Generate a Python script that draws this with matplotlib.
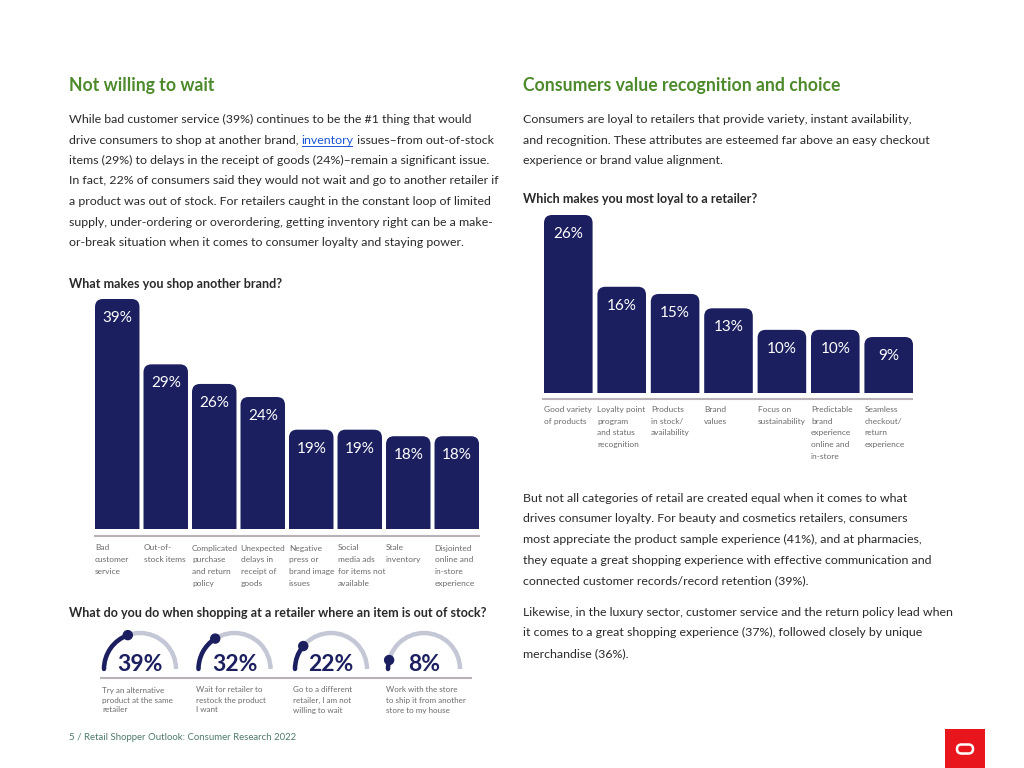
import math
import matplotlib.pyplot as plt
from matplotlib.patches import FancyBboxPatch, Arc, Circle, Rectangle

plt.rcParams['font.family'] = ['Lato', 'DejaVu Sans']

W, H = 1024, 768
NAVY = '#1b1f5f'
GREEN = '#4d8a2b'
TEXT = '#2a2a2a'
LABEL = '#6b6b6b'
RULE = '#b9b3b9'
GAUGE_BG = '#c4c7d6'

# chart data
shop_labels = ['Bad\ncustomer\nservice', 'Out-of-\nstock items', 'Complicated\npurchase\nand return\npolicy',
               'Unexpected\ndelays in\nreceipt of\ngoods', 'Negative\npress or\nbrand image\nissues',
               'Social\nmedia ads\nfor items not\navailable', 'Stale\ninventory',
               'Disjointed\nonline and\nin-store\nexperience']
shop_values = [39, 29, 26, 24, 19, 19, 18, 18]

loyal_labels = ['Good variety\nof products', 'Loyalty point\nprogram\nand status\nrecognition',
                'Products\nin stock/\navailability', 'Brand\nvalues', 'Focus on\nsustainability',
                'Predictable\nbrand\nexperience\nonline and\nin-store', 'Seamless\ncheckout/\nreturn\nexperience']
loyal_values = [26, 16, 15, 13, 10, 10, 9]

oos_labels = ['Try an alternative\nproduct at the same\nretailer', 'Wait for retailer to\nrestock the product\nI want',
              'Go to a different\nretailer, I am not\nwilling to wait', 'Work with the store\nto ship it from another\nstore to my house']
oos_values = [39, 32, 22, 8]

left_para = [
    'While bad customer service (39%) continues to be the #1 thing that would',
    None,
    'items (29%) to delays in the receipt of goods (24%)\u2013remain a significant issue.',
    'In fact, 22% of consumers said they would not wait and go to another retailer if',
    'a product was out of stock. For retailers caught in the constant loop of limited',
    'supply, under-ordering or overordering, getting inventory right can be a make-',
    'or-break situation when it comes to consumer loyalty and staying power.',
]
link_line = ['drive consumers to shop at another brand, ', 'inventory', ' issues\u2013from out-of-stock']
right_para = [
    'Consumers are loyal to retailers that provide variety, instant availability,',
    'and recognition. These attributes are esteemed far above an easy checkout',
    'experience or brand value alignment.',
]
right_para2 = [
    'But not all categories of retail are created equal when it comes to what',
    'drives consumer loyalty. For beauty and cosmetics retailers, consumers',
    'most appreciate the product sample experience (41%), and at pharmacies,',
    'they equate a great shopping experience with effective communication and',
    'connected customer records/record retention (39%).',
]
right_para3 = [
    'Likewise, in the luxury sector, customer service and the return policy lead when',
    'it comes to a great shopping experience (37%), followed closely by unique',
    'merchandise (36%).',
]

fig = plt.figure(figsize=(W / 100, H / 100), dpi=100)
page = fig.add_axes([0, 0, 1, 1])
page.set_xlim(0, W)
page.set_ylim(H, 0)
page.axis('off')
renderer = fig.canvas.get_renderer()

BODY = 8.9
LEAD = 20.5
HEAD = 12.7
QTITLE = 9.1
SMALL = 6.0


def para(x, y0, lines):
    for k, s in enumerate(lines):
        if s is not None:
            page.text(x, y0 + k * LEAD, s, fontsize=BODY, color=TEXT, va='baseline', ha='left')


# headings
page.text(69, 91, 'Not willing to wait', fontsize=HEAD, fontweight='bold', color=GREEN, va='baseline')
page.text(523, 91, 'Consumers value recognition and choice', fontsize=HEAD, fontweight='bold', color=GREEN, va='baseline')

para(69, 123, left_para)
# line with the link
x = 69
y = 123 + LEAD
for k, s in enumerate(link_line):
    c = '#1a56d6' if k == 1 else TEXT
    t = page.text(x, y, s, fontsize=BODY, color=c, va='baseline', ha='left')
    w = t.get_window_extent(renderer=renderer).width
    if k == 1:
        page.plot([x + 0.5, x + w - 1.5], [y + 2, y + 2], color=c, lw=0.7)
    x += w

para(523, 123, right_para)
para(523, 502, right_para2)
para(523, 616, right_para3)

# chart titles
page.text(69, 288, 'What makes you shop another brand?', fontsize=QTITLE, fontweight='bold', color=TEXT, va='baseline')
page.text(69, 617, 'What do you do when shopping at a retailer where an item is out of stock?', fontsize=QTITLE,
          fontweight='bold', color=TEXT, va='baseline')
page.text(523, 203, 'Which makes you most loyal to a retailer?', fontsize=QTITLE, fontweight='bold', color=TEXT,
          va='baseline')


def bar_chart(rect, labels, values, ymin, ymax, width, first_base):
    x0, y0, x1, y1 = rect
    ax = fig.add_axes([x0 / W, 1 - y1 / H, (x1 - x0) / W, (y1 - y0) / H])
    n = len(values)
    half = width / 2
    ax.set_xlim(-half, n - 1 + half)
    ax.set_ylim(ymin, ymax)
    ax.axis('off')
    px_x = (x1 - x0) / (n - 1 + width)
    px_y = (y1 - y0) / (ymax - ymin)
    r = 8 / px_x
    for i, v in enumerate(values):
        p = FancyBboxPatch((i - half, 0), width, v, boxstyle=f'round,pad=0,rounding_size={r}',
                           mutation_aspect=px_x / px_y, fc=NAVY, ec='none')
        ax.add_patch(p)
        ax.annotate(f'{v}%', xy=(i, v), xytext=(0, -19 * 0.72), textcoords='offset points',
                    ha='center', va='center', color='white', fontsize=11)
        for k, line in enumerate(labels[i].split('\n')):
            ax.annotate(line, xy=(i - half, 0), xycoords=('data', 'axes fraction'),
                        xytext=(0, -(first_base + k * 11.7) * 0.72), textcoords='offset points',
                        ha='left', va='baseline', fontsize=SMALL, color=LABEL)
    return ax


bar_chart((95, 299, 479, 529), shop_labels, shop_values, 3.8, 39, 0.917, 21.5)
page.plot([94, 480], [536, 536], color=RULE, lw=1.5, solid_capstyle='butt')

bar_chart((544, 215, 913, 393), loyal_labels, loyal_values, 1.2, 26, 0.91, 19)
page.plot([542, 913], [399, 399], color=RULE, lw=1.5, solid_capstyle='butt')

# gauges
gauge_x = [140, 234.5, 331, 424]
gcy = 669
gr = 36
for cx, v, lab in zip(gauge_x, oos_values, oos_labels):
    page.add_patch(Arc((cx, gcy), 2 * gr, 2 * gr, theta1=180, theta2=360, color=GAUGE_BG, lw=3.2))
    end = 180 + v * 1.8
    arc = Arc((cx, gcy), 2 * gr, 2 * gr, theta1=180, theta2=end, color=NAVY, lw=3.2)
    arc.set_capstyle('round')
    page.add_patch(arc)
    ex = cx + gr * math.cos(math.radians(end))
    ey = gcy + gr * math.sin(math.radians(end))
    page.add_patch(Circle((ex, ey), 4.5, color=NAVY))
    page.text(cx, 671, f'{v}%', fontsize=16.5, fontweight='bold', color=NAVY, ha='center', va='baseline')
    for k, line in enumerate(lab.split('\n')):
        page.text(cx - 38, 692.5 + k * 10, line, fontsize=5.8, color=LABEL, va='baseline')
page.plot([100, 472], [678, 678], color=RULE, lw=1.5, solid_capstyle='butt')

# footer
page.text(69, 740, '5 / Retail Shopper Outlook: Consumer Research 2022', fontsize=6.9, color='#4f7a6a', va='baseline')
page.add_patch(Rectangle((945, 729), 40, 40, color='#e8161c', lw=0))
page.add_patch(FancyBboxPatch((957, 744.5), 16, 9, boxstyle='round,pad=0,rounding_size=4.5',
                              fc='none', ec='white', lw=1.8))

fig.savefig('out.png', dpi=100)
